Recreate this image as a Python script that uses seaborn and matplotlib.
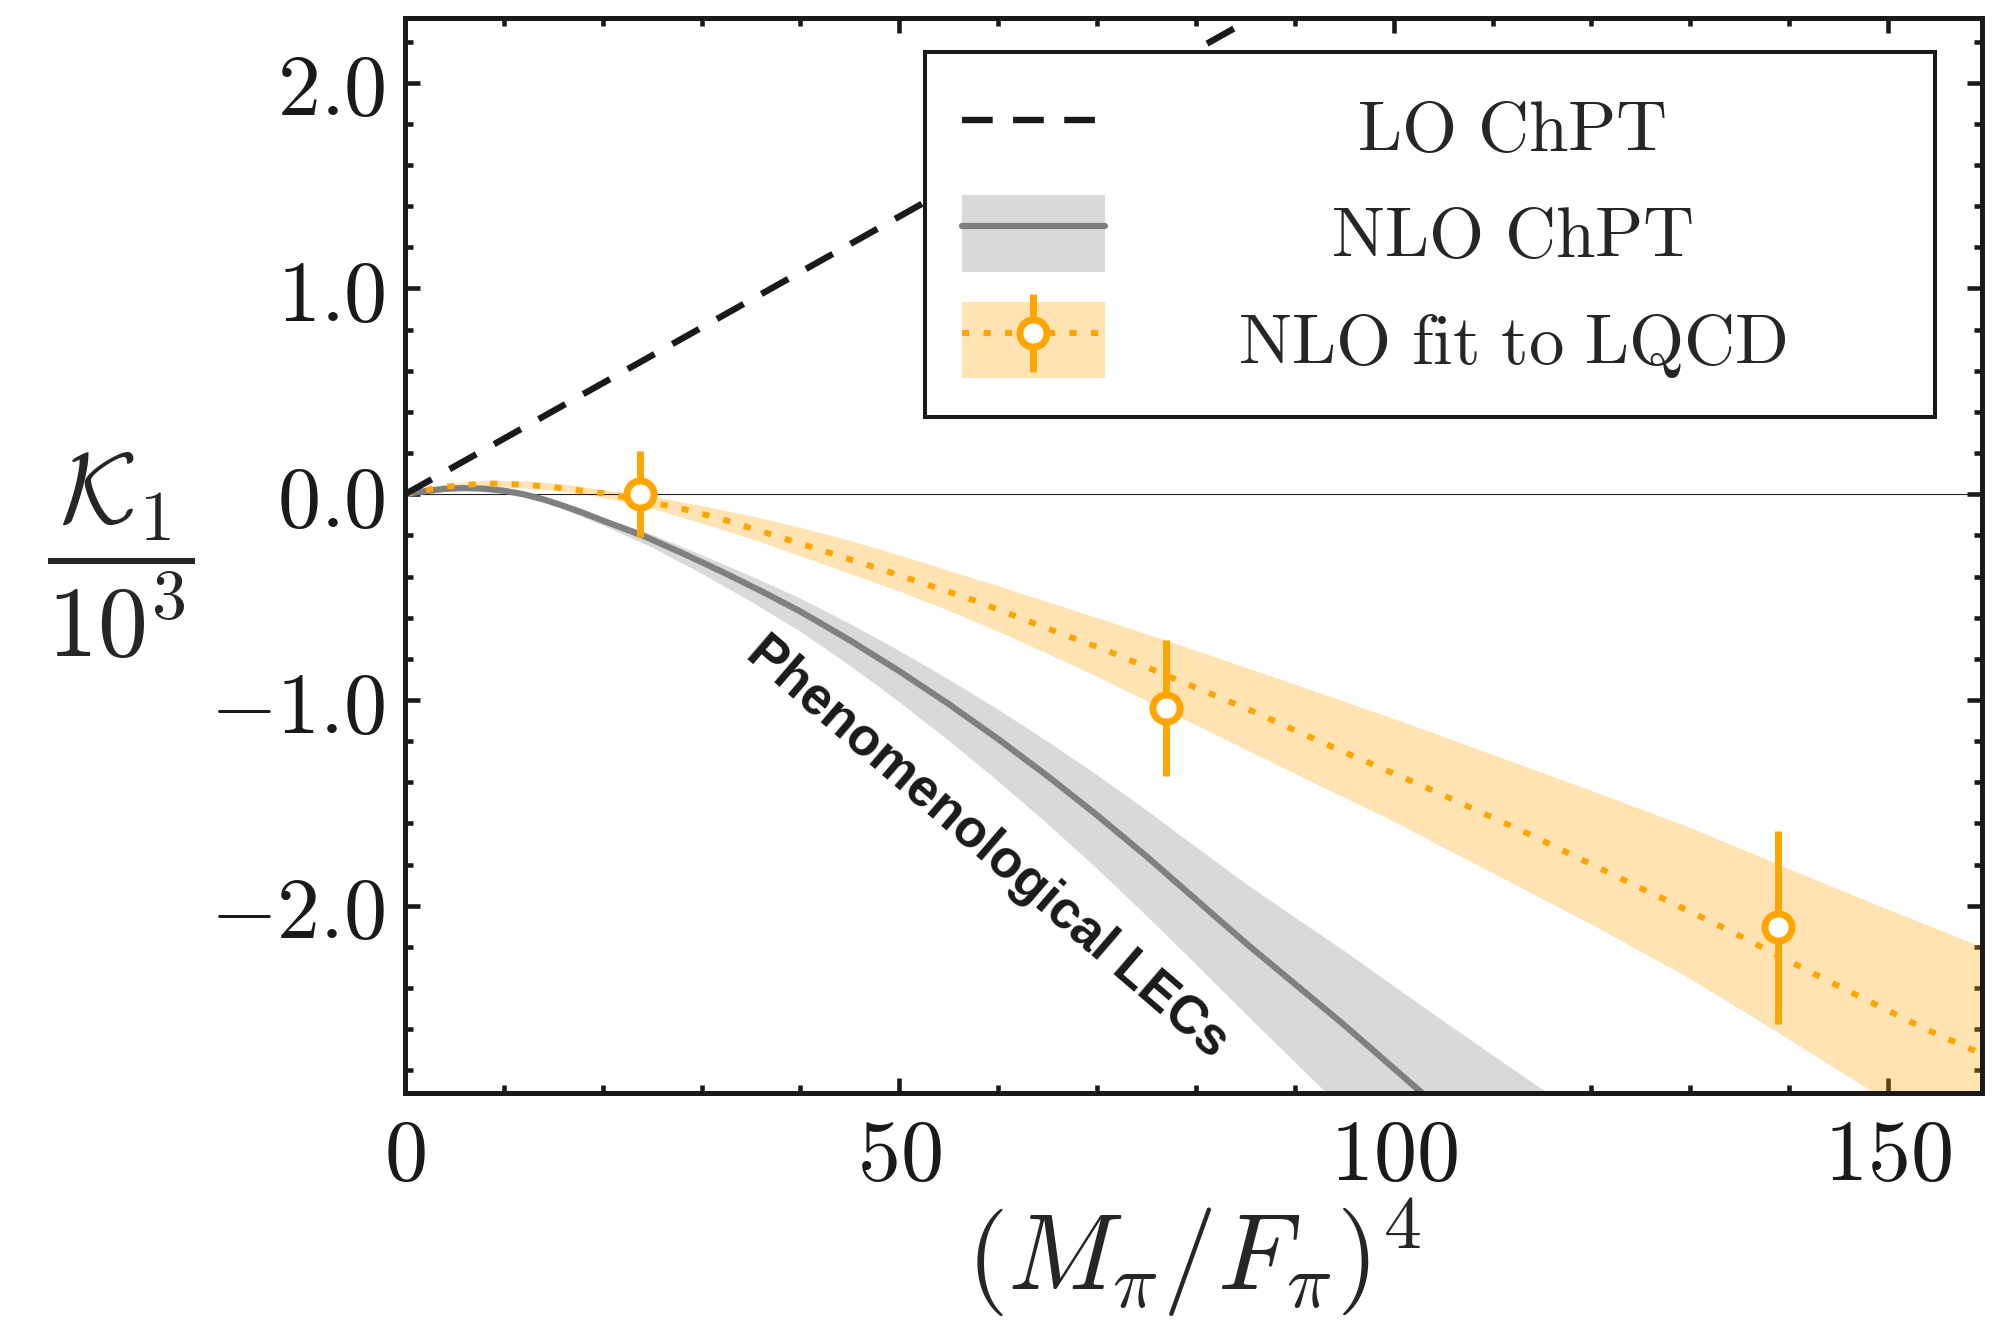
import numpy as np
import pandas as pd
import matplotlib
matplotlib.use("Agg")
import matplotlib.pyplot as plt
import seaborn as sns
from matplotlib.patches import Patch
from matplotlib.lines import Line2D
from matplotlib.legend_handler import HandlerTuple, HandlerErrorbar
from matplotlib.container import ErrorbarContainer
from matplotlib.ticker import FixedLocator, FixedFormatter, MultipleLocator

# ---------------- data ----------------
lo_x = [0, 90]
lo_y = [0, 2.43]

nlo_x = [0, 2, 4, 6, 8, 10, 12, 14, 16, 18, 20, 24, 28, 32, 36, 40, 45, 50, 55, 60,
         65, 70, 75, 80, 85, 90, 95, 100, 105]
nlo_y = [0, 0.015, 0.026, 0.03, 0.027, 0.017, 0.0, -0.025, -0.056, -0.09, -0.128, -0.20,
         -0.285, -0.375, -0.47, -0.57, -0.71, -0.86, -1.02, -1.19, -1.37, -1.56, -1.76,
         -1.97, -2.18, -2.38, -2.58, -2.79, -3.00]

nlo_band_x = [0, 5, 10, 15, 20, 25, 30, 35, 40, 45, 50, 55, 60, 65, 70, 75, 80, 85, 90,
              95, 100, 105, 110, 115, 120]
nlo_band_hi = [0, 0.030, 0.021, -0.031, -0.112, -0.195, -0.294, -0.397, -0.506, -0.629,
               -0.76, -0.899, -1.046, -1.201, -1.364, -1.535, -1.714, -1.891, -2.056,
               -2.219, -2.39, -2.559, -2.726, -2.891, -3.054]
nlo_band_lo = [0, 0.027, 0.012, -0.052, -0.15, -0.258, -0.385, -0.521, -0.667, -0.832,
               -1.01, -1.197, -1.395, -1.602, -1.82, -2.048, -2.285, -2.524, -2.76,
               -2.995, -3.24, -3.48, -3.72, -3.96, -4.20]

fit_x = [0, 3.5, 8, 12.3, 15, 20, 24, 28, 32, 40, 48.5, 57.8, 66.5, 71, 77.5, 85.5, 93.4,
         103.5, 113.6, 123.5, 133.5, 143.5, 153.8, 159.5]
fit_y = [0, 0.034, 0.053, 0.046, 0.034, 0.005, -0.03, -0.07, -0.12, -0.24, -0.37, -0.52,
         -0.68, -0.76, -0.89, -1.05, -1.22, -1.43, -1.65, -1.88, -2.11, -2.355, -2.60, -2.72]

fit_band_x = [0, 4, 8, 12, 16, 20, 24, 30, 35, 40, 45, 50, 55, 60, 70, 77, 88, 100, 110,
              120, 130, 139, 148.3, 159.5]
fit_band_hi = [0, 0.05, 0.068, 0.065, 0.05, 0.022, 0.0, -0.055, -0.105, -0.16, -0.225,
               -0.295, -0.37, -0.445, -0.60, -0.71, -0.89, -1.09, -1.265, -1.44, -1.62,
               -1.80, -1.985, -2.20]
fit_band_lo = [0, 0.02, 0.04, 0.03, 0.015, -0.015, -0.055, -0.14, -0.215, -0.30, -0.385,
               -0.47, -0.565, -0.665, -0.885, -1.05, -1.31, -1.59, -1.84, -2.09, -2.355,
               -2.62, -2.90, -3.22]

lqcd_x = [23.8, 77.0, 138.9]
lqcd_y = [0.0, -1.04, -2.105]
lqcd_err = [0.21, 0.33, 0.47]

xticks = [0, 50, 100, 150]
xtick_labels = [r'$0$', r'$50$', r'$100$', r'$150$']
yticks = [-2, -1, 0, 1, 2]
ytick_labels = [r'$-2.0$', r'$-1.0$', r'$0.0$', r'$1.0$', r'$2.0$']

legend_labels = [r'$\mathrm{LO\ ChPT}$', r'$\mathrm{NLO\ ChPT}$', r'$\mathrm{NLO\ fit\ to\ LQCD}$']
annot_text = 'Phenomenological LECs'

# ---------------- style ----------------
sns.set_theme(style="ticks")
plt.rcParams['font.family'] = ['DejaVu Serif', 'DejaVu Sans']
plt.rcParams['mathtext.fontset'] = 'cm'
plt.rcParams['axes.edgecolor'] = 'k'
plt.rcParams['xtick.color'] = 'k'
plt.rcParams['ytick.color'] = 'k'

ORANGE = '#ffa500'
GRAY_LINE = '#808080'
GRAY_BAND = '#d9d9d9'
DASH = (0, (4.8, 3.2))
DOT = (0, (1.2, 2.4))

fig = plt.figure(figsize=(19.92, 13.29), dpi=100)
ax = fig.add_axes([0.2033, 0.1776, 0.7917, 0.8089])

# bands
ax.fill_between(nlo_band_x, nlo_band_lo, nlo_band_hi, color=GRAY_BAND, lw=0, zorder=1)
ax.fill_between(fit_band_x, fit_band_lo, fit_band_hi, color=ORANGE, alpha=0.3, lw=0, zorder=1.2)

ax.axhline(0, color='#222222', lw=0.8, zorder=1.5)

# curves
sns.lineplot(x=nlo_x, y=nlo_y, color=GRAY_LINE, lw=4.5, ax=ax, zorder=3)
sns.lineplot(x=fit_x, y=fit_y, color=ORANGE, lw=4.3, linestyle=DOT, ax=ax, zorder=3.2)
sns.lineplot(x=lo_x, y=lo_y, color='k', lw=4.6, linestyle=DASH, ax=ax, zorder=3.4)

eb = ax.errorbar(lqcd_x, lqcd_y, yerr=lqcd_err, fmt='o', color=ORANGE, ms=19.5, mew=5,
                 mfc='white', mec=ORANGE, elinewidth=5, capsize=0, zorder=5)

ax.text(58.9, -1.716, annot_text, rotation=-40.7, rotation_mode='anchor', ha='center',
        va='center', fontsize=38, fontweight='bold', family=['Liberation Sans', 'DejaVu Sans'],
        color='k', zorder=6)

# axes
ax.set_xlim(0, 159.5)
ax.set_ylim(-2.91, 2.315)
ax.xaxis.set_major_locator(FixedLocator(xticks))
ax.xaxis.set_major_formatter(FixedFormatter(xtick_labels))
ax.yaxis.set_major_locator(FixedLocator(yticks))
ax.yaxis.set_major_formatter(FixedFormatter(ytick_labels))
ax.xaxis.set_minor_locator(MultipleLocator(10))
ax.yaxis.set_minor_locator(MultipleLocator(0.2))
ax.tick_params(which='both', direction='in', top=True, right=True, width=3.3, color='k')
ax.tick_params(which='major', length=11, labelsize=62)
ax.tick_params(axis='y', which='major', pad=14)
ax.tick_params(axis='x', which='major', pad=16)
ax.tick_params(which='minor', length=6)
for s in ax.spines.values():
    s.set_linewidth(3.6)
    s.set_color('k')
    s.set_zorder(10)

ax.set_xlabel(r'$\left(M_\pi/F_\pi\right)^4$', fontsize=78)
ax.xaxis.set_label_coords(0.5, -0.095)
ax.xaxis.label.set_va('top')
ax.set_ylabel(r'$\dfrac{\mathcal{K}_1}{10^3}$', fontsize=72, rotation=0)
ax.yaxis.set_label_coords(-0.18, 0.50)
ax.yaxis.label.set_va('center')
ax.yaxis.label.set_ha('center')

# legend
h_lo = Line2D([], [], color='k', lw=4.6, linestyle=DASH)
h_nlo = (Patch(facecolor=GRAY_BAND, edgecolor='none'), Line2D([], [], color=GRAY_LINE, lw=4.5))
h_fit = (Patch(facecolor=ORANGE, alpha=0.3, edgecolor='none'),
         Line2D([], [], color=ORANGE, lw=4.3, linestyle=DOT), eb)
leg = ax.legend([h_lo, h_nlo, h_fit], legend_labels,
                handler_map={tuple: HandlerTuple(ndivide=1, pad=0),
                             ErrorbarContainer: HandlerErrorbar(xerr_size=0.55, yerr_size=0.55)},
                loc='upper left', bbox_to_anchor=(0.3297, 0.6316, 0.6405, 0.3368),
                mode='expand', borderaxespad=0, fontsize=51, handlelength=2.02,
                handleheight=1.28, handletextpad=0.5, labelspacing=0.42, borderpad=0.52,
                frameon=True, fancybox=False, framealpha=1, edgecolor='k')
leg.get_frame().set_linewidth(2.9)
leg.set_zorder(20)

fig.canvas.draw()
renderer = fig.canvas.get_renderer()
target_center = 1512.0
for t in leg.get_texts():
    bb = t.get_window_extent(renderer)
    shift = target_center - 0.5 * (bb.x0 + bb.x1)
    x0, y0 = t.get_position()
    t.set_position((x0 + shift, y0))

fig.savefig('out.png', dpi=100)
